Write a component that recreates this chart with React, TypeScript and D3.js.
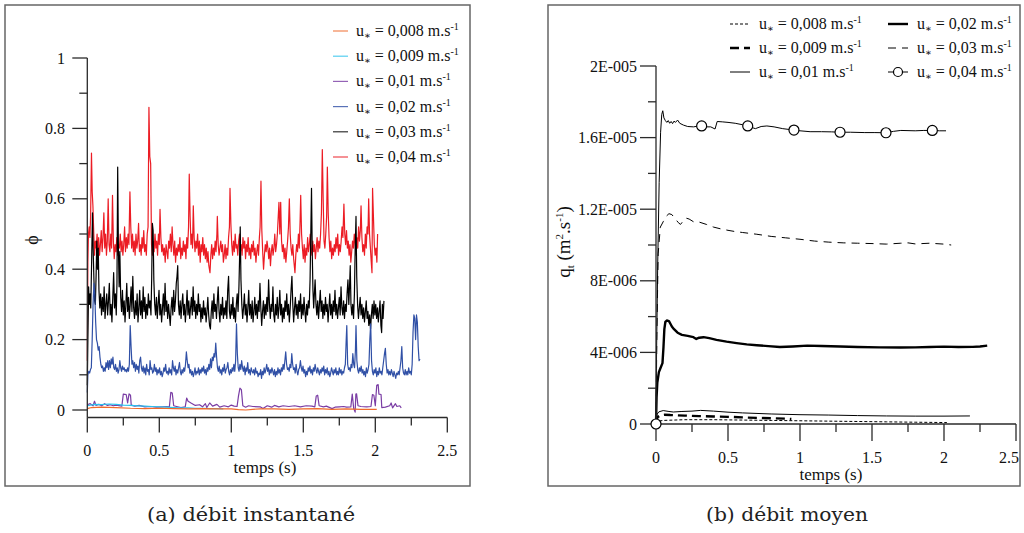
import React from "react";
import * as d3 from "d3";

const FONT = "Liberation Serif, Tinos, Times New Roman, DejaVu Serif, serif";
const CAPTION_FONT = "DejaVu Serif, Liberation Serif, serif";
const UNIT = 1e-6;

// ---------- (a) instantaneous flux phi ----------
const leftLabels = ["0,008", "0,009", "0,01", "0,02", "0,03", "0,04"];
const leftColors = ["#F06A2A", "#2BC3EE", "#7A3DA4", "#3050A6", "#000000", "#EC1C24"];

const phi004: [number, number][] = [[0,0.14],[0.004,0.42],[0.008,0.5],[0.013,0.52],[0.018,0.49],[0.023,0.55],[0.029,0.73],[0.034,0.62],[0.039,0.58],[0.045,0.5],[0.05,0.44],[0.056,0.48],[0.062,0.46],[0.068,0.5],[0.073,0.45],[0.079,0.49],[0.085,0.44],[0.091,0.47],[0.097,0.51],[0.103,0.45],[0.109,0.49],[0.115,0.56],[0.121,0.46],[0.127,0.5],[0.133,0.44],[0.139,0.48],[0.145,0.6],[0.151,0.47],[0.157,0.45],[0.163,0.5],[0.169,0.46],[0.175,0.61],[0.181,0.48],[0.187,0.43],[0.193,0.47],[0.199,0.45],[0.205,0.49],[0.211,0.44],[0.217,0.47],[0.223,0.46],[0.229,0.5],[0.235,0.45],[0.241,0.48],[0.247,0.44],[0.253,0.47],[0.259,0.52],[0.265,0.45],[0.271,0.49],[0.277,0.46],[0.283,0.5],[0.289,0.47],[0.296,0.62],[0.302,0.52],[0.308,0.46],[0.314,0.5],[0.32,0.45],[0.326,0.48],[0.332,0.44],[0.338,0.5],[0.344,0.46],[0.35,0.48],[0.356,0.53],[0.362,0.45],[0.368,0.47],[0.374,0.44],[0.38,0.49],[0.386,0.46],[0.392,0.51],[0.398,0.45],[0.404,0.47],[0.41,0.44],[0.416,0.5],[0.422,0.52],[0.428,0.86],[0.434,0.72],[0.44,0.7],[0.446,0.47],[0.452,0.44],[0.458,0.48],[0.464,0.45],[0.47,0.5],[0.476,0.46],[0.482,0.48],[0.488,0.44],[0.494,0.5],[0.5,0.47],[0.505,0.57],[0.511,0.49],[0.517,0.45],[0.523,0.47],[0.529,0.44],[0.535,0.46],[0.541,0.42],[0.547,0.47],[0.553,0.45],[0.559,0.43],[0.565,0.48],[0.571,0.46],[0.577,0.5],[0.583,0.45],[0.589,0.52],[0.595,0.47],[0.601,0.44],[0.607,0.48],[0.613,0.42],[0.619,0.46],[0.625,0.44],[0.631,0.47],[0.637,0.45],[0.643,0.49],[0.649,0.43],[0.655,0.46],[0.661,0.44],[0.667,0.48],[0.673,0.45],[0.679,0.47],[0.685,0.43],[0.691,0.49],[0.697,0.46],[0.703,0.52],[0.708,0.67],[0.714,0.55],[0.72,0.47],[0.726,0.5],[0.731,0.46],[0.736,0.58],[0.742,0.49],[0.748,0.45],[0.754,0.48],[0.76,0.46],[0.766,0.5],[0.772,0.44],[0.778,0.48],[0.784,0.42],[0.79,0.47],[0.796,0.45],[0.802,0.49],[0.808,0.44],[0.814,0.47],[0.82,0.43],[0.826,0.46],[0.832,0.42],[0.838,0.45],[0.844,0.41],[0.852,0.39],[0.858,0.44],[0.864,0.47],[0.87,0.43],[0.876,0.46],[0.882,0.44],[0.888,0.48],[0.894,0.45],[0.9,0.5],[0.903,0.55],[0.909,0.47],[0.915,0.44],[0.921,0.46],[0.927,0.48],[0.933,0.45],[0.939,0.47],[0.945,0.42],[0.951,0.44],[0.957,0.47],[0.963,0.43],[0.969,0.46],[0.975,0.44],[0.981,0.49],[0.987,0.52],[0.991,0.63],[0.997,0.53],[1.003,0.47],[1.009,0.44],[1.015,0.48],[1.021,0.45],[1.027,0.5],[1.033,0.46],[1.039,0.47],[1.045,0.44],[1.051,0.48],[1.057,0.5],[1.063,0.45],[1.069,0.47],[1.075,0.44],[1.081,0.49],[1.087,0.46],[1.093,0.48],[1.099,0.43],[1.105,0.47],[1.111,0.45],[1.117,0.49],[1.123,0.44],[1.129,0.46],[1.135,0.43],[1.141,0.47],[1.147,0.45],[1.153,0.48],[1.159,0.44],[1.165,0.46],[1.171,0.42],[1.177,0.45],[1.183,0.47],[1.189,0.44],[1.195,0.49],[1.2,0.52],[1.206,0.65],[1.212,0.51],[1.218,0.45],[1.224,0.4],[1.23,0.44],[1.236,0.47],[1.242,0.45],[1.248,0.48],[1.254,0.46],[1.26,0.43],[1.266,0.46],[1.272,0.41],[1.278,0.45],[1.284,0.47],[1.29,0.44],[1.296,0.46],[1.302,0.5],[1.308,0.45],[1.314,0.47],[1.32,0.5],[1.326,0.55],[1.331,0.59],[1.337,0.5],[1.343,0.59],[1.349,0.48],[1.355,0.45],[1.361,0.47],[1.367,0.43],[1.373,0.46],[1.379,0.42],[1.385,0.45],[1.391,0.48],[1.397,0.52],[1.403,0.6],[1.409,0.5],[1.415,0.46],[1.421,0.44],[1.427,0.47],[1.433,0.43],[1.442,0.39],[1.448,0.44],[1.454,0.47],[1.46,0.45],[1.466,0.5],[1.472,0.46],[1.478,0.54],[1.482,0.61],[1.488,0.5],[1.494,0.46],[1.5,0.43],[1.506,0.47],[1.512,0.42],[1.518,0.46],[1.524,0.44],[1.53,0.49],[1.536,0.45],[1.542,0.47],[1.548,0.5],[1.554,0.46],[1.56,0.44],[1.566,0.48],[1.572,0.45],[1.578,0.47],[1.584,0.43],[1.59,0.46],[1.596,0.49],[1.602,0.45],[1.608,0.48],[1.614,0.46],[1.62,0.5],[1.626,0.56],[1.632,0.74],[1.638,0.6],[1.644,0.48],[1.65,0.46],[1.656,0.5],[1.662,0.55],[1.667,0.69],[1.673,0.56],[1.679,0.49],[1.685,0.45],[1.691,0.48],[1.697,0.43],[1.703,0.46],[1.709,0.44],[1.715,0.47],[1.721,0.45],[1.727,0.49],[1.733,0.46],[1.739,0.5],[1.745,0.44],[1.751,0.47],[1.757,0.45],[1.763,0.48],[1.769,0.52],[1.775,0.49],[1.782,0.585],[1.788,0.5],[1.794,0.47],[1.8,0.51],[1.806,0.46],[1.812,0.48],[1.818,0.44],[1.824,0.47],[1.83,0.42],[1.836,0.45],[1.842,0.48],[1.848,0.46],[1.854,0.5],[1.86,0.47],[1.866,0.44],[1.872,0.49],[1.878,0.46],[1.884,0.52],[1.89,0.48],[1.896,0.51],[1.901,0.58],[1.907,0.49],[1.913,0.45],[1.919,0.47],[1.925,0.44],[1.931,0.5],[1.937,0.46],[1.943,0.52],[1.949,0.5],[1.954,0.6],[1.96,0.5],[1.966,0.46],[1.972,0.42],[1.977,0.39],[1.981,0.63],[1.987,0.55],[1.993,0.47],[1.999,0.44],[2.005,0.46],[2.011,0.42],[2.016,0.5]];

const phi003: [number, number][] = [[0,0.07],[0.004,0.2],[0.009,0.35],[0.014,0.3],[0.019,0.33],[0.024,0.29],[0.03,0.42],[0.036,0.56],[0.041,0.45],[0.046,0.37],[0.051,0.31],[0.056,0.3],[0.061,0.38],[0.066,0.48],[0.071,0.4],[0.076,0.46],[0.081,0.34],[0.087,0.29],[0.093,0.33],[0.099,0.27],[0.105,0.32],[0.111,0.28],[0.117,0.35],[0.123,0.26],[0.129,0.3],[0.135,0.33],[0.141,0.27],[0.147,0.31],[0.153,0.36],[0.159,0.27],[0.165,0.3],[0.171,0.25],[0.177,0.32],[0.183,0.39],[0.189,0.29],[0.195,0.33],[0.201,0.27],[0.206,0.36],[0.211,0.69],[0.216,0.46],[0.221,0.35],[0.226,0.45],[0.232,0.32],[0.238,0.28],[0.244,0.34],[0.25,0.27],[0.256,0.31],[0.262,0.25],[0.268,0.3],[0.274,0.36],[0.28,0.28],[0.286,0.32],[0.292,0.26],[0.298,0.3],[0.304,0.35],[0.31,0.28],[0.316,0.38],[0.322,0.29],[0.328,0.26],[0.334,0.31],[0.34,0.27],[0.346,0.33],[0.352,0.25],[0.358,0.29],[0.364,0.34],[0.37,0.27],[0.376,0.31],[0.382,0.26],[0.388,0.35],[0.394,0.28],[0.4,0.32],[0.406,0.26],[0.412,0.3],[0.418,0.27],[0.424,0.33],[0.43,0.29],[0.436,0.31],[0.442,0.27],[0.447,0.37],[0.452,0.53],[0.457,0.51],[0.462,0.37],[0.468,0.3],[0.474,0.27],[0.48,0.32],[0.486,0.26],[0.492,0.3],[0.498,0.34],[0.504,0.27],[0.51,0.3],[0.516,0.25],[0.522,0.29],[0.528,0.33],[0.534,0.27],[0.54,0.36],[0.546,0.28],[0.552,0.31],[0.558,0.26],[0.564,0.3],[0.57,0.27],[0.576,0.24],[0.582,0.29],[0.588,0.32],[0.594,0.27],[0.6,0.34],[0.606,0.28],[0.612,0.31],[0.618,0.36],[0.623,0.38],[0.628,0.41],[0.633,0.3],[0.639,0.27],[0.645,0.31],[0.651,0.26],[0.657,0.3],[0.663,0.33],[0.669,0.27],[0.675,0.3],[0.681,0.25],[0.687,0.29],[0.693,0.34],[0.699,0.27],[0.705,0.31],[0.711,0.26],[0.717,0.29],[0.723,0.32],[0.729,0.27],[0.735,0.35],[0.741,0.28],[0.747,0.31],[0.753,0.26],[0.759,0.3],[0.765,0.27],[0.771,0.33],[0.777,0.28],[0.783,0.3],[0.789,0.25],[0.795,0.29],[0.801,0.26],[0.807,0.31],[0.813,0.27],[0.819,0.29],[0.825,0.25],[0.831,0.28],[0.837,0.32],[0.843,0.27],[0.849,0.24],[0.855,0.23],[0.861,0.28],[0.867,0.31],[0.873,0.26],[0.879,0.33],[0.885,0.28],[0.891,0.3],[0.897,0.26],[0.903,0.31],[0.909,0.35],[0.915,0.28],[0.921,0.25],[0.927,0.3],[0.933,0.27],[0.939,0.32],[0.945,0.26],[0.951,0.29],[0.957,0.27],[0.963,0.31],[0.969,0.26],[0.975,0.34],[0.981,0.38],[0.987,0.28],[0.993,0.26],[0.999,0.3],[1.005,0.27],[1.011,0.32],[1.017,0.26],[1.023,0.29],[1.029,0.25],[1.035,0.3],[1.041,0.33],[1.047,0.28],[1.053,0.35],[1.058,0.44],[1.062,0.52],[1.067,0.37],[1.073,0.3],[1.079,0.26],[1.085,0.29],[1.091,0.33],[1.097,0.27],[1.103,0.3],[1.109,0.25],[1.115,0.29],[1.121,0.34],[1.127,0.27],[1.133,0.3],[1.139,0.26],[1.145,0.31],[1.151,0.25],[1.157,0.28],[1.163,0.32],[1.169,0.27],[1.175,0.3],[1.181,0.26],[1.187,0.31],[1.193,0.28],[1.199,0.36],[1.205,0.29],[1.211,0.24],[1.217,0.28],[1.223,0.31],[1.229,0.26],[1.235,0.3],[1.241,0.27],[1.247,0.32],[1.253,0.28],[1.259,0.37],[1.265,0.3],[1.271,0.26],[1.277,0.3],[1.283,0.28],[1.289,0.35],[1.295,0.27],[1.301,0.25],[1.307,0.3],[1.313,0.27],[1.319,0.32],[1.325,0.26],[1.331,0.29],[1.337,0.34],[1.343,0.27],[1.349,0.3],[1.355,0.25],[1.361,0.29],[1.367,0.26],[1.373,0.31],[1.379,0.28],[1.385,0.33],[1.391,0.27],[1.397,0.3],[1.403,0.25],[1.409,0.29],[1.415,0.34],[1.421,0.38],[1.427,0.3],[1.433,0.25],[1.439,0.29],[1.445,0.32],[1.451,0.27],[1.457,0.3],[1.463,0.26],[1.469,0.31],[1.475,0.28],[1.481,0.33],[1.487,0.26],[1.493,0.3],[1.499,0.27],[1.505,0.32],[1.511,0.28],[1.517,0.25],[1.523,0.3],[1.529,0.27],[1.535,0.31],[1.541,0.29],[1.547,0.37],[1.552,0.5],[1.557,0.63],[1.562,0.45],[1.567,0.34],[1.572,0.29],[1.577,0.33],[1.582,0.37],[1.588,0.3],[1.594,0.27],[1.6,0.31],[1.606,0.26],[1.612,0.3],[1.618,0.34],[1.624,0.28],[1.63,0.31],[1.636,0.26],[1.642,0.3],[1.648,0.27],[1.654,0.32],[1.66,0.28],[1.666,0.3],[1.672,0.25],[1.678,0.29],[1.684,0.33],[1.69,0.27],[1.696,0.3],[1.702,0.26],[1.708,0.31],[1.714,0.28],[1.72,0.34],[1.726,0.27],[1.732,0.3],[1.738,0.26],[1.744,0.29],[1.75,0.32],[1.756,0.27],[1.762,0.35],[1.768,0.29],[1.774,0.27],[1.78,0.31],[1.786,0.26],[1.792,0.3],[1.798,0.28],[1.804,0.33],[1.81,0.37],[1.816,0.3],[1.821,0.35],[1.826,0.41],[1.831,0.3],[1.837,0.27],[1.843,0.3],[1.849,0.26],[1.855,0.33],[1.86,0.45],[1.866,0.55],[1.871,0.38],[1.877,0.3],[1.883,0.26],[1.889,0.29],[1.895,0.32],[1.901,0.27],[1.907,0.3],[1.913,0.26],[1.919,0.29],[1.925,0.25],[1.931,0.28],[1.937,0.31],[1.943,0.26],[1.949,0.28],[1.955,0.24],[1.961,0.27],[1.967,0.23],[1.973,0.27],[1.979,0.3],[1.985,0.26],[1.991,0.31],[1.997,0.27],[2.003,0.3],[2.009,0.26],[2.015,0.29],[2.021,0.25],[2.027,0.28],[2.033,0.31],[2.039,0.24],[2.044,0.22],[2.049,0.3],[2.054,0.26],[2.06,0.31]];

const phi002: [number, number][] = [[0,0.05],[0.004,0.1],[0.01,0.11],[0.016,0.105],[0.022,0.115],[0.028,0.12],[0.034,0.2],[0.04,0.3],[0.046,0.36],[0.052,0.33],[0.058,0.25],[0.064,0.2],[0.07,0.19],[0.076,0.17],[0.082,0.18],[0.088,0.15],[0.094,0.13],[0.1,0.12],[0.106,0.125],[0.112,0.11],[0.118,0.12],[0.124,0.11],[0.13,0.135],[0.136,0.12],[0.142,0.14],[0.148,0.115],[0.154,0.14],[0.16,0.12],[0.166,0.145],[0.172,0.13],[0.178,0.15],[0.184,0.12],[0.19,0.115],[0.196,0.13],[0.202,0.11],[0.208,0.12],[0.214,0.105],[0.22,0.115],[0.226,0.14],[0.232,0.12],[0.238,0.11],[0.244,0.125],[0.25,0.115],[0.256,0.12],[0.262,0.11],[0.268,0.115],[0.274,0.108],[0.28,0.12],[0.286,0.11],[0.292,0.13],[0.298,0.24],[0.304,0.18],[0.31,0.13],[0.316,0.14],[0.322,0.12],[0.328,0.135],[0.334,0.11],[0.34,0.13],[0.346,0.115],[0.352,0.125],[0.358,0.105],[0.364,0.14],[0.37,0.15],[0.376,0.12],[0.382,0.11],[0.388,0.125],[0.394,0.105],[0.4,0.12],[0.406,0.1],[0.412,0.13],[0.418,0.11],[0.424,0.115],[0.43,0.1],[0.436,0.14],[0.442,0.115],[0.448,0.12],[0.454,0.105],[0.46,0.11],[0.466,0.13],[0.472,0.11],[0.478,0.12],[0.484,0.1],[0.49,0.115],[0.496,0.105],[0.502,0.12],[0.508,0.1],[0.514,0.11],[0.52,0.095],[0.526,0.105],[0.532,0.12],[0.538,0.11],[0.544,0.13],[0.55,0.105],[0.556,0.11],[0.562,0.1],[0.568,0.12],[0.574,0.105],[0.58,0.115],[0.586,0.1],[0.592,0.14],[0.598,0.12],[0.604,0.11],[0.61,0.125],[0.616,0.1],[0.622,0.115],[0.628,0.105],[0.634,0.12],[0.64,0.135],[0.646,0.11],[0.652,0.1],[0.658,0.115],[0.664,0.105],[0.67,0.12],[0.676,0.11],[0.682,0.13],[0.688,0.165],[0.694,0.14],[0.7,0.12],[0.706,0.13],[0.712,0.105],[0.718,0.115],[0.724,0.1],[0.73,0.11],[0.736,0.095],[0.742,0.105],[0.748,0.12],[0.754,0.1],[0.76,0.11],[0.766,0.105],[0.772,0.12],[0.778,0.1],[0.784,0.115],[0.79,0.105],[0.796,0.12],[0.802,0.11],[0.808,0.125],[0.814,0.105],[0.82,0.115],[0.826,0.1],[0.832,0.12],[0.838,0.11],[0.844,0.13],[0.85,0.115],[0.856,0.145],[0.862,0.12],[0.868,0.15],[0.874,0.14],[0.88,0.16],[0.886,0.15],[0.892,0.19],[0.898,0.15],[0.904,0.12],[0.91,0.11],[0.916,0.125],[0.922,0.105],[0.928,0.115],[0.934,0.1],[0.94,0.12],[0.946,0.11],[0.952,0.13],[0.958,0.105],[0.964,0.115],[0.97,0.12],[0.976,0.135],[0.982,0.11],[0.988,0.1],[0.994,0.115],[1.0,0.105],[1.006,0.12],[1.012,0.11],[1.018,0.13],[1.024,0.11],[1.03,0.14],[1.036,0.245],[1.042,0.16],[1.048,0.12],[1.054,0.11],[1.06,0.13],[1.066,0.115],[1.072,0.14],[1.078,0.12],[1.084,0.11],[1.09,0.125],[1.096,0.1],[1.102,0.12],[1.108,0.11],[1.114,0.135],[1.12,0.105],[1.126,0.115],[1.132,0.1],[1.138,0.12],[1.144,0.11],[1.15,0.105],[1.156,0.115],[1.162,0.1],[1.168,0.12],[1.174,0.105],[1.18,0.11],[1.186,0.095],[1.192,0.105],[1.198,0.1],[1.204,0.115],[1.21,0.09],[1.216,0.11],[1.222,0.1],[1.228,0.12],[1.234,0.105],[1.24,0.115],[1.246,0.13],[1.252,0.11],[1.258,0.12],[1.264,0.1],[1.27,0.115],[1.276,0.105],[1.282,0.12],[1.288,0.11],[1.294,0.1],[1.3,0.115],[1.306,0.095],[1.312,0.11],[1.318,0.1],[1.324,0.12],[1.33,0.105],[1.336,0.115],[1.342,0.1],[1.348,0.12],[1.354,0.11],[1.36,0.13],[1.366,0.115],[1.372,0.14],[1.378,0.165],[1.384,0.13],[1.39,0.115],[1.396,0.12],[1.402,0.11],[1.408,0.13],[1.414,0.12],[1.42,0.16],[1.426,0.13],[1.432,0.115],[1.438,0.12],[1.444,0.105],[1.45,0.13],[1.456,0.11],[1.462,0.1],[1.468,0.115],[1.474,0.12],[1.48,0.14],[1.486,0.12],[1.492,0.11],[1.498,0.125],[1.504,0.105],[1.51,0.115],[1.516,0.095],[1.522,0.11],[1.528,0.1],[1.534,0.12],[1.54,0.11],[1.546,0.125],[1.552,0.105],[1.558,0.115],[1.564,0.1],[1.57,0.12],[1.576,0.11],[1.582,0.13],[1.588,0.115],[1.594,0.105],[1.6,0.12],[1.606,0.11],[1.612,0.1],[1.618,0.115],[1.624,0.105],[1.63,0.12],[1.636,0.11],[1.642,0.125],[1.648,0.1],[1.654,0.115],[1.66,0.105],[1.666,0.12],[1.672,0.1],[1.678,0.11],[1.684,0.095],[1.69,0.105],[1.696,0.12],[1.702,0.11],[1.708,0.1],[1.714,0.115],[1.72,0.105],[1.726,0.12],[1.732,0.1],[1.738,0.11],[1.744,0.1],[1.75,0.12],[1.756,0.105],[1.762,0.115],[1.768,0.1],[1.774,0.11],[1.78,0.105],[1.786,0.12],[1.792,0.13],[1.798,0.2],[1.802,0.24],[1.808,0.13],[1.814,0.115],[1.82,0.12],[1.826,0.11],[1.832,0.13],[1.838,0.12],[1.844,0.16],[1.85,0.13],[1.856,0.12],[1.862,0.17],[1.866,0.24],[1.872,0.14],[1.878,0.115],[1.884,0.105],[1.89,0.12],[1.896,0.11],[1.902,0.125],[1.908,0.105],[1.914,0.115],[1.92,0.1],[1.926,0.11],[1.932,0.095],[1.938,0.12],[1.944,0.105],[1.95,0.115],[1.956,0.13],[1.962,0.2],[1.968,0.245],[1.974,0.14],[1.98,0.11],[1.986,0.1],[1.992,0.115],[1.998,0.105],[2.004,0.12],[2.01,0.095],[2.016,0.11],[2.022,0.1],[2.028,0.12],[2.034,0.105],[2.04,0.11],[2.046,0.1],[2.052,0.12],[2.058,0.14],[2.064,0.16],[2.07,0.175],[2.076,0.13],[2.082,0.105],[2.088,0.115],[2.094,0.1],[2.1,0.11],[2.106,0.1],[2.112,0.115],[2.118,0.105],[2.124,0.095],[2.13,0.11],[2.136,0.1],[2.142,0.09],[2.148,0.105],[2.154,0.1],[2.16,0.11],[2.166,0.1],[2.172,0.12],[2.178,0.14],[2.184,0.18],[2.19,0.12],[2.196,0.105],[2.202,0.1],[2.208,0.115],[2.214,0.1],[2.22,0.11],[2.226,0.1],[2.232,0.12],[2.238,0.105],[2.244,0.11],[2.25,0.1],[2.256,0.13],[2.262,0.22],[2.268,0.27],[2.274,0.26],[2.28,0.2],[2.286,0.27],[2.292,0.25],[2.298,0.18],[2.304,0.14],[2.31,0.145]];

const phi001: [number, number][] = [[0,0.015],[0.02,0.018],[0.04,0.012],[0.05,0.025],[0.06,0.013],[0.08,0.016],[0.1,0.012],[0.12,0.018],[0.14,0.013],[0.16,0.015],[0.18,0.012],[0.2,0.014],[0.24,0.011],[0.25,0.045],[0.27,0.044],[0.28,0.02],[0.29,0.046],[0.3,0.042],[0.305,0.014],[0.33,0.011],[0.36,0.013],[0.4,0.009],[0.44,0.01],[0.48,0.008],[0.52,0.009],[0.55,0.01],[0.57,0.009],[0.58,0.05],[0.59,0.048],[0.6,0.012],[0.62,0.01],[0.65,0.007],[0.68,0.009],[0.69,0.034],[0.7,0.025],[0.72,0.02],[0.75,0.013],[0.78,0.015],[0.8,0.009],[0.82,0.018],[0.83,0.007],[0.85,0.02],[0.87,0.011],[0.9,0.016],[0.92,0.008],[0.95,0.012],[0.98,0.009],[1.0,0.014],[1.02,0.011],[1.04,0.01],[1.05,0.04],[1.06,0.062],[1.07,0.058],[1.08,0.012],[1.1,0.008],[1.12,0.012],[1.15,0.01],[1.2,0.009],[1.22,0.004],[1.25,0.012],[1.28,0.008],[1.3,0.013],[1.33,0.009],[1.36,0.012],[1.4,0.01],[1.44,0.012],[1.48,0.009],[1.52,0.012],[1.56,0.011],[1.58,0.009],[1.59,0.04],[1.6,0.042],[1.61,0.012],[1.64,0.009],[1.66,0.011],[1.7,0.004],[1.72,0.008],[1.75,0.009],[1.78,0.01],[1.8,0.008],[1.83,0.009],[1.84,0.045],[1.85,0.004],[1.86,-0.006],[1.865,0.045],[1.87,0.046],[1.88,0.012],[1.9,0.01],[1.94,0.009],[1.97,0.01],[1.98,0.044],[1.99,0.042],[2.0,0.012],[2.01,0.07],[2.02,0.072],[2.025,0.045],[2.04,0.044],[2.045,0.007],[2.07,0.008],[2.1,0.012],[2.11,0.02],[2.12,0.006],[2.14,0.018],[2.15,0.01],[2.17,0.012],[2.18,0.006]];

const phi0009: [number, number][] = [[0,0.012],[0.05,0.016],[0.1,0.015],[0.15,0.017],[0.2,0.016],[0.25,0.014],[0.3,0.013],[0.35,0.012],[0.4,0.011],[0.45,0.01],[0.5,0.009],[0.55,0.008],[0.6,0.007],[0.65,0.006],[0.7,0.006],[0.75,0.005],[0.8,0.005],[0.85,0.004],[0.9,0.004],[0.945,0.003]];

const phi0008: [number, number][] = [[0,0.004],[0.03,0.007],[0.1,0.008],[0.2,0.007],[0.3,0.005],[0.4,0.004],[0.5,0.005],[0.6,0.004],[0.7,0.003],[0.8,0.004],[0.9,0.003],[1.0,0.003],[1.05,0.001],[1.1,0.0],[1.15,0.002],[1.2,0.003],[1.3,0.003],[1.4,0.002],[1.5,0.003],[1.6,0.004],[1.7,0.002],[1.8,0.003],[1.9,0.002],[2.01,0.002]];

const leftSeries = [phi0008, phi0009, phi001, phi002, phi003, phi004];

const leftYMajor = [0, 0.2, 0.4, 0.6, 0.8, 1];
const leftYLabels = ["0", "0.2", "0.4", "0.6", "0.8", "1"];
const leftYMinor = [0.1, 0.3, 0.5, 0.7, 0.9];
const xMajor = [0, 0.5, 1, 1.5, 2, 2.5];
const xLabels = ["0", "0.5", "1", "1.5", "2", "2.5"];
const xMinor = [0.25, 0.75, 1.25, 1.75, 2.25];

// ---------- (b) mean flux q_t (values in units of 1e-6 m2/s) ----------
const q0008: [number, number][] = [[0,0],[0.01,0.15],[0.05,0.2],[0.2,0.24],[0.4,0.24],[0.6,0.22],[0.8,0.2],[1.0,0.18],[1.2,0.16],[1.4,0.14],[1.6,0.12],[1.8,0.1],[2.02,0.08]];
const q0009: [number, number][] = [[0,0],[0.01,0.38],[0.03,0.48],[0.06,0.52],[0.1,0.5],[0.2,0.47],[0.3,0.44],[0.4,0.42],[0.5,0.4],[0.6,0.37],[0.7,0.34],[0.8,0.32],[0.9,0.3],[0.94,0.28]];
const q001: [number, number][] = [[0,0],[0.008,0.55],[0.02,0.68],[0.05,0.75],[0.09,0.7],[0.12,0.67],[0.18,0.7],[0.25,0.72],[0.31,0.76],[0.4,0.72],[0.5,0.66],[0.6,0.62],[0.8,0.56],[1.0,0.52],[1.2,0.5],[1.4,0.47],[1.6,0.45],[1.8,0.44],[2.0,0.44],[2.18,0.45]];
const q002: [number, number][] = [[0,0],[0.004,1.5],[0.009,2.3],[0.02,2.9],[0.03,3.1],[0.045,3.4],[0.052,4.3],[0.058,5.3],[0.065,5.7],[0.075,5.78],[0.09,5.75],[0.1,5.6],[0.11,5.45],[0.125,5.3],[0.15,5.1],[0.18,4.98],[0.22,4.92],[0.26,4.85],[0.28,4.75],[0.3,4.82],[0.33,4.85],[0.37,4.8],[0.42,4.7],[0.49,4.6],[0.56,4.52],[0.63,4.45],[0.7,4.4],[0.78,4.35],[0.86,4.3],[0.95,4.33],[1.05,4.38],[1.15,4.36],[1.28,4.33],[1.4,4.3],[1.55,4.28],[1.7,4.27],[1.8,4.28],[1.9,4.3],[2.0,4.32],[2.1,4.3],[2.2,4.31],[2.25,4.33],[2.3,4.38]];
const q003: [number, number][] = [[0,0],[0.006,5],[0.015,9.5],[0.03,11.0],[0.05,11.3],[0.07,11.6],[0.09,11.75],[0.11,11.7],[0.13,11.5],[0.155,11.25],[0.17,11.15],[0.19,11.35],[0.21,11.5],[0.23,11.45],[0.26,11.3],[0.3,11.28],[0.35,11.15],[0.4,11.0],[0.45,10.9],[0.5,10.82],[0.55,10.75],[0.6,10.7],[0.7,10.6],[0.8,10.48],[0.9,10.4],[1.0,10.32],[1.1,10.22],[1.2,10.16],[1.3,10.12],[1.4,10.1],[1.5,10.08],[1.6,10.05],[1.7,10.1],[1.75,10.12],[1.8,10.06],[1.9,10.1],[2.0,10.05],[2.05,10.0]];
const q004: [number, number][] = [[0,0],[0.004,4],[0.012,9],[0.022,13.5],[0.032,16.3],[0.04,17.3],[0.047,17.5],[0.055,17.1],[0.065,16.95],[0.075,16.85],[0.085,16.95],[0.095,16.8],[0.105,16.9],[0.115,16.78],[0.125,16.92],[0.135,16.85],[0.15,16.98],[0.165,16.8],[0.19,16.7],[0.22,16.62],[0.26,16.6],[0.3,16.65],[0.317,16.65],[0.35,16.6],[0.38,16.6],[0.41,16.48],[0.425,16.9],[0.46,16.88],[0.5,16.85],[0.55,16.8],[0.6,16.72],[0.637,16.65],[0.66,16.58],[0.69,16.5],[0.73,16.62],[0.77,16.65],[0.82,16.6],[0.88,16.5],[0.958,16.42],[1.0,16.38],[1.07,16.33],[1.15,16.33],[1.22,16.32],[1.278,16.3],[1.35,16.3],[1.45,16.28],[1.52,16.28],[1.597,16.27],[1.65,16.35],[1.7,16.4],[1.8,16.38],[1.86,16.4],[1.919,16.4],[1.97,16.38],[2.014,16.38]];
const q004Markers: [number, number][] = [[0,0],[0.317,16.65],[0.637,16.65],[0.958,16.42],[1.278,16.3],[1.597,16.27],[1.919,16.4]];

const rightYMajor = [0, 4, 8, 12, 16, 20];
const rightYLabels = ["0", "4E-006", "8E-006", "1.2E-005", "1.6E-005", "2E-005"];
const rightYMinor = [2, 6, 10, 14, 18];

type Style = { w: number; dash?: string };
const rightStyles: Style[] = [
  { w: 1, dash: "3,2" },
  { w: 2.4, dash: "9,5" },
  { w: 1 },
  { w: 2.4 },
  { w: 1, dash: "8,6" },
  { w: 1 },
];
const rightSeries = [q0008, q0009, q001, q002, q003, q004];

const txt = { fontFamily: FONT } as React.CSSProperties;
const capTxt = { fontFamily: CAPTION_FONT } as React.CSSProperties;

function ULabel({ x, y, val }: { x: number; y: number; val: string }) {
  return (
    <text x={x} y={y} style={txt} fontSize={16} fill="#111">
      u<tspan fontSize={10} dy={3}>∗</tspan>
      <tspan dy={-3}> = {val} m.s</tspan>
      <tspan fontSize={10} dy={-6}>-1</tspan>
    </text>
  );
}

export default function App() {
  const xL = d3.scaleLinear().domain([0, 2.5]).range([87.3, 447.3]);
  const yL = d3.scaleLinear().domain([0, 1]).range([410, 58]);
  const xR = d3.scaleLinear().domain([0, 2.5]).range([656, 1016]);
  const yR = d3.scaleLinear().domain([0, 20 * UNIT]).range([424, 66]);
  const axisYL = 417.5;
  const axisYR = yR(0);

  const lineL = d3.line<[number, number]>().x((d) => xL(d[0])).y((d) => yL(d[1]));
  const lineR = d3.line<[number, number]>().x((d) => xR(d[0])).y((d) => yR(d[1] * UNIT));

  const ax = "#2a2a2a";
  const drawOrder = [5, 4, 3, 2, 1, 0];

  return (
    <svg width={1024} height={533} style={{ position: "absolute", left: 0, top: 0, background: "#fff", fontFamily: FONT }}>
      <rect x={0} y={0} width={1024} height={533} fill="#fff" />
      <rect x={5} y={5} width={465} height={481} fill="none" stroke="#666" strokeWidth={1.5} />
      <rect x={548} y={5} width={472} height={481} fill="none" stroke="#666" strokeWidth={1.5} />

      {/* ===== left panel ===== */}
      <g>
        {drawOrder.map((i) => (
          <path key={i} d={lineL(leftSeries[i]) || ""} fill="none" stroke={leftColors[i]} strokeWidth={1.2} strokeLinejoin="round" />
        ))}
        <line x1={xL(0)} x2={xL(0)} y1={yL(1)} y2={axisYL} stroke={ax} strokeWidth={1.3} />
        <line x1={xL(0)} x2={xL(2.5)} y1={axisYL} y2={axisYL} stroke={ax} strokeWidth={1.3} />
        {leftYMajor.map((v, i) => (
          <g key={"ly" + i}>
            <line x1={xL(0) - 15} x2={xL(0)} y1={yL(v)} y2={yL(v)} stroke={ax} strokeWidth={1.3} />
            <text x={65} y={yL(v)} dy="0.35em" textAnchor="end" style={txt} fontSize={16} fill="#111">{leftYLabels[i]}</text>
          </g>
        ))}
        {leftYMinor.map((v, i) => (
          <line key={"lym" + i} x1={xL(0) - 8} x2={xL(0)} y1={yL(v)} y2={yL(v)} stroke={ax} strokeWidth={1.3} />
        ))}
        {xMajor.map((v, i) => (
          <g key={"lx" + i}>
            <line x1={xL(v)} x2={xL(v)} y1={axisYL} y2={axisYL + 15} stroke={ax} strokeWidth={1.3} />
            <text x={xL(v)} y={450} dy="0.35em" textAnchor="middle" style={txt} fontSize={16} fill="#111">{xLabels[i]}</text>
          </g>
        ))}
        {xMinor.map((v, i) => (
          <line key={"lxm" + i} x1={xL(v)} x2={xL(v)} y1={axisYL} y2={axisYL + 8} stroke={ax} strokeWidth={1.3} />
        ))}
        <text x={265} y={467} dy="0.35em" textAnchor="middle" style={txt} fontSize={17} fill="#111">temps (s)</text>
        <text transform="translate(32,240) rotate(-90)" textAnchor="middle" dy="0.35em" style={txt} fontSize={18} fill="#111">ϕ</text>
        {leftLabels.map((lab, i) => {
          const y = 31 + i * 25.2;
          return (
            <g key={"lleg" + i}>
              <line x1={333} x2={348} y1={y} y2={y} stroke={leftColors[i]} strokeWidth={1.2} opacity={0.8} />
              <ULabel x={356} y={y + 5} val={lab} />
            </g>
          );
        })}
      </g>

      {/* ===== right panel ===== */}
      <g>
        {rightSeries.map((s, i) => (
          <path key={"rs" + i} d={lineR(s) || ""} fill="none" stroke="#000" strokeWidth={rightStyles[i].w} strokeDasharray={rightStyles[i].dash} strokeLinejoin="round" />
        ))}
        <line x1={xR(0)} x2={xR(0)} y1={yR(20 * UNIT)} y2={axisYR} stroke={ax} strokeWidth={1.3} />
        <line x1={xR(0)} x2={xR(2.5)} y1={axisYR} y2={axisYR} stroke={ax} strokeWidth={1.3} />
        {rightYMajor.map((v, i) => (
          <g key={"ry" + i}>
            <line x1={xR(0) - 16} x2={xR(0)} y1={yR(v * UNIT)} y2={yR(v * UNIT)} stroke={ax} strokeWidth={1.3} />
            <text x={637} y={yR(v * UNIT)} dy="0.35em" textAnchor="end" style={txt} fontSize={16} fill="#111">{rightYLabels[i]}</text>
          </g>
        ))}
        {rightYMinor.map((v, i) => (
          <line key={"rym" + i} x1={xR(0) - 8} x2={xR(0)} y1={yR(v * UNIT)} y2={yR(v * UNIT)} stroke={ax} strokeWidth={1.3} />
        ))}
        {xMajor.map((v, i) => (
          <g key={"rx" + i}>
            <line x1={xR(v)} x2={xR(v)} y1={axisYR} y2={axisYR + 17} stroke={ax} strokeWidth={1.3} />
            <text x={Math.min(xR(v), 1009)} y={457} dy="0.35em" textAnchor="middle" style={txt} fontSize={16} fill="#111">{xLabels[i]}</text>
          </g>
        ))}
        {xMinor.map((v, i) => (
          <line key={"rxm" + i} x1={xR(v)} x2={xR(v)} y1={axisYR} y2={axisYR + 8} stroke={ax} strokeWidth={1.3} />
        ))}
        {q004Markers.map((d, i) => (
          <circle key={"mk" + i} cx={xR(d[0])} cy={yR(d[1] * UNIT)} r={5} fill="#fff" stroke="#000" strokeWidth={1.2} />
        ))}
        <text x={831} y={474} dy="0.35em" textAnchor="middle" style={txt} fontSize={17} fill="#111">temps (s)</text>
        <text transform="translate(563,242) rotate(-90)" textAnchor="middle" dy="0.35em" style={txt} fontSize={19} fill="#111">
          q<tspan fontSize={11} dy={4}>t</tspan>
          <tspan dy={-4}> (m</tspan>
          <tspan fontSize={11} dy={-7}>2</tspan>
          <tspan dy={7}>.s</tspan>
          <tspan fontSize={11} dy={-7}>-1</tspan>
          <tspan dy={7}>)</tspan>
        </text>
        {leftLabels.map((lab, i) => {
          const col = i < 3 ? 0 : 1;
          const row = i % 3;
          const y = 24 + row * 24;
          const sx = col === 0 ? 730 : 888;
          const tx = col === 0 ? 759 : 917;
          const st = rightStyles[i];
          return (
            <g key={"rleg" + i}>
              <line x1={sx} x2={sx + 20} y1={y} y2={y} stroke="#000" strokeWidth={st.w} strokeDasharray={st.dash} />
              {i === 5 && <circle cx={sx + 10} cy={y} r={4.5} fill="#fff" stroke="#000" strokeWidth={1.2} />}
              <ULabel x={tx} y={y + 5} val={lab} />
            </g>
          );
        })}
      </g>

      {/* captions */}
      <text x={251} y={521} textAnchor="middle" style={capTxt} fontSize={19} fill="#222" textLength={208} lengthAdjust="spacingAndGlyphs">(a) débit instantané</text>
      <text x={787} y={521} textAnchor="middle" style={capTxt} fontSize={19} fill="#222" textLength={162} lengthAdjust="spacingAndGlyphs">(b) débit moyen</text>
    </svg>
  );
}
